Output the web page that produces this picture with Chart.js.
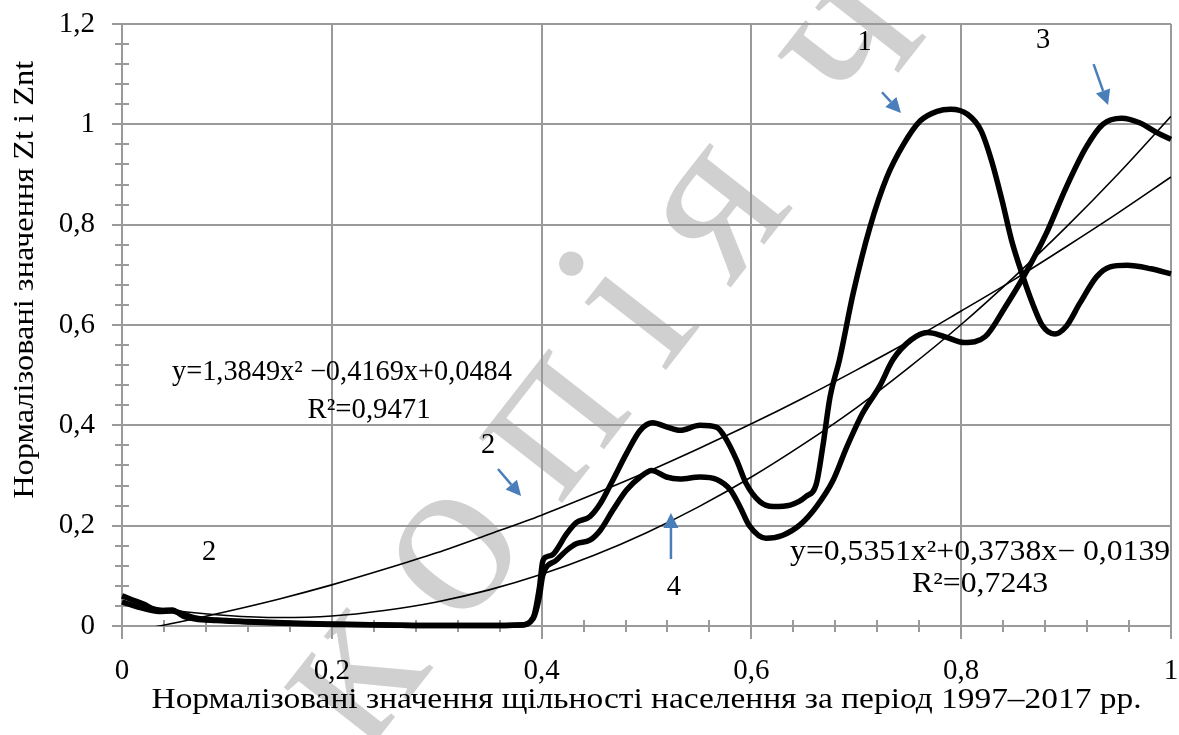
<!DOCTYPE html>
<html><head><meta charset="utf-8">
<script src="https://cdn.jsdelivr.net/npm/chart.js@4.4.0/dist/chart.umd.min.js"></script>
<style>html,body{margin:0;padding:0;background:#fff}#wrap{width:1179px;height:735px}</style>
</head><body><div id="wrap"><canvas id="c" width="1179" height="735"></canvas></div>
<script>
// ---- data ----
const curve1X = [0,0.02,0.035,0.048,0.058,0.07,0.09,0.12,0.16,0.2,0.25,0.3,0.35,0.38,0.392,0.398,0.401,0.405,0.411,0.424,0.433,0.446,0.456,0.468,0.481,0.494,0.506,0.519,0.532,0.551,0.567,0.576,0.586,0.595,0.608,0.621,0.637,0.652,0.662,0.668,0.675,0.684,0.697,0.713,0.729,0.745,0.761,0.777,0.790,0.806,0.819,0.829,0.839,0.848,0.858,0.868,0.877,0.889,0.900,0.913,0.929,0.942,0.958,0.981,1.0];
const curve1Y = [0.060,0.044,0.031,0.032,0.020,0.014,0.011,0.008,0.005,0.003,0.002,0.001,0.001,0.002,0.017,0.078,0.128,0.138,0.143,0.184,0.206,0.218,0.244,0.291,0.344,0.390,0.405,0.397,0.390,0.400,0.396,0.372,0.330,0.284,0.248,0.238,0.241,0.258,0.284,0.357,0.457,0.531,0.663,0.795,0.894,0.960,1.007,1.026,1.030,1.020,0.987,0.927,0.848,0.769,0.702,0.643,0.600,0.582,0.597,0.643,0.696,0.716,0.719,0.712,0.702];
const curve3X = [0,0.02,0.035,0.048,0.058,0.07,0.09,0.12,0.16,0.2,0.25,0.3,0.35,0.38,0.392,0.398,0.401,0.414,0.424,0.433,0.446,0.456,0.468,0.481,0.494,0.505,0.519,0.532,0.551,0.567,0.580,0.589,0.598,0.614,0.630,0.646,0.662,0.678,0.691,0.706,0.722,0.735,0.752,0.768,0.784,0.803,0.823,0.842,0.861,0.881,0.900,0.919,0.935,0.953,0.970,0.987,1.0];
const curve3Y = [0.048,0.035,0.029,0.030,0.024,0.016,0.012,0.009,0.006,0.004,0.002,0.001,0.001,0.002,0.015,0.060,0.100,0.131,0.151,0.164,0.171,0.191,0.231,0.271,0.297,0.310,0.297,0.293,0.297,0.292,0.271,0.238,0.200,0.175,0.181,0.201,0.238,0.291,0.357,0.424,0.477,0.531,0.570,0.585,0.577,0.565,0.577,0.636,0.702,0.782,0.874,0.954,1.000,1.012,1.003,0.983,0.970];
const trendX  = [0,0.05,0.1,0.15,0.2,0.25,0.3,0.35,0.4,0.45,0.5,0.55,0.6,0.65,0.7,0.75,0.8,0.85,0.9,0.95,1.0];
const trendAY = [0.048,0.031,0.021,0.017,0.020,0.031,0.048,0.072,0.103,0.141,0.186,0.238,0.297,0.363,0.435,0.515,0.601,0.695,0.795,0.902,1.016];
const trendBY = [-0.014,0.006,0.029,0.054,0.082,0.113,0.146,0.183,0.221,0.263,0.307,0.354,0.403,0.455,0.510,0.567,0.628,0.690,0.756,0.824,0.895];
const xTickLabels = ['0','0,2','0,4','0,6','0,8','1'];
const yTickLabels = ['0','0,2','0,4','0,6','0,8','1','1,2'];
const xTitle = 'Нормалізовані значення щільності населення за період 1997–2017 рр.';
const yTitle = 'Нормалізовані значення Zt і Znt';
const eqLines = ['y=1,3849x² −0,4169x+0,0484', 'R²=0,9471', 'y=0,5351x²+0,3738x− 0,0139', 'R²=0,7243'];
const eqPos = [[0.2097,0.5043],[0.2355,0.4305],[0.818,0.1455],[0.818,0.0817]];
const eqWidth = [340, 123, 380, 136];
const labelText = ['1','3','2','2','4'];
const labelPos  = [[0.708,1.164],[0.878,1.168],[0.349,0.359],[0.083,0.146],[0.526,0.076]];
const arrows = [[[0.7245,1.064],[0.7426,1.0225]],[[0.9262,1.120],[0.940,1.0385]],[[0.3584,0.313],[0.3804,0.2591]],[[0.5233,0.1335],[0.5233,0.2252]]];
const watermark = 'копія ч';

const pts = (xs, ys) => xs.map((x, i) => ({x, y: ys[i]}));
const isMajor = v => Math.abs(Math.round(v * 100) % 20) === 0;
const FONT = 'Liberation Serif';
const GRID = '#9a9a9a';

const bgPlugin = {
  id: 'bg',
  beforeDraw(chart) {
    const ctx = chart.ctx;
    ctx.save();
    ctx.fillStyle = '#fff';
    ctx.fillRect(0, 0, chart.width, chart.height);
    const xs = chart.scales.x, ys = chart.scales.y;
    const cx = xs.getPixelForValue(0.319), cy = ys.getPixelForValue(0.14);
    ctx.translate(cx, cy);
    ctx.rotate(-52 * Math.PI / 180);
    const fs = 230;
    ctx.font = fs + 'px "' + FONT + '"';
    ctx.fillStyle = 'rgba(170,170,170,0.55)';
    const gap = 45;
    const chars = Array.from(watermark);
    const wk = ctx.measureText(chars[0]).width, wo = ctx.measureText(chars[1]).width;
    let x = -(wk + gap + wo / 2);
    for (const ch of chars) {
      ctx.fillText(ch, x, fs * 0.22);
      x += ctx.measureText(ch).width + (ch === ' ' ? 0 : gap);
    }
    ctx.restore();
  }
};

const ticksPlugin = {
  id: 'minorTicks',
  beforeDatasetsDraw(chart) {
    const ctx = chart.ctx, xs = chart.scales.x, ys = chart.scales.y, a = chart.chartArea;
    ctx.save();
    ctx.strokeStyle = GRID; ctx.lineWidth = 2;
    ctx.beginPath();
    for (let i = 0; i <= 25; i++) {
      const v = i * 0.04;
      const px = Math.round(xs.getPixelForValue(v));
      if (isMajor(v)) { ctx.moveTo(px, a.bottom); ctx.lineTo(px, a.bottom + 13); }
      else { ctx.moveTo(px, a.bottom - 6); ctx.lineTo(px, a.bottom + 6); }
    }
    for (let i = 0; i <= 30; i++) {
      const v = i * 0.04;
      const py = Math.round(ys.getPixelForValue(v));
      if (isMajor(v)) { ctx.moveTo(a.left - 10, py); ctx.lineTo(a.left, py); }
      else { ctx.moveTo(a.left - 7, py); ctx.lineTo(a.left + 7, py); }
    }
    ctx.stroke();
    ctx.restore();
  }
};

function stretchedText(ctx, text, x, y, targetLen, rot) {
  ctx.save();
  ctx.translate(x, y);
  if (rot) ctx.rotate(rot);
  const w = ctx.measureText(text).width;
  ctx.scale(targetLen / w, 1);
  ctx.fillText(text, 0, 0);
  ctx.restore();
}

const annotPlugin = {
  id: 'annot',
  afterDatasetsDraw(chart) {
    const ctx = chart.ctx, xs = chart.scales.x, ys = chart.scales.y, a = chart.chartArea;
    const P = p => [xs.getPixelForValue(p[0]), ys.getPixelForValue(p[1])];
    ctx.save();
    ctx.fillStyle = '#000';
    ctx.textAlign = 'center'; ctx.textBaseline = 'middle';
    ctx.font = '28.5px "' + FONT + '"';
    labelText.forEach((t, i) => { const [x, y] = P(labelPos[i]); ctx.fillText(t, x, y); });
    eqLines.forEach((t, i) => { const [x, y] = P(eqPos[i]); stretchedText(ctx, t, x, y, eqWidth[i], 0); });
    // axis titles
    ctx.font = '30px "' + FONT + '"';
    ctx.textBaseline = 'alphabetic';
    stretchedText(ctx, xTitle, (a.left + a.right) / 2, 708, 990, 0);
    stretchedText(ctx, yTitle, 33, ys.getPixelForValue(0.69), 438, -Math.PI / 2);
    // arrows
    ctx.strokeStyle = '#4a7ebb'; ctx.fillStyle = '#4a7ebb'; ctx.lineWidth = 2.5;
    arrows.forEach(ar => {
      const [x0, y0] = P(ar[0]), [x1, y1] = P(ar[1]);
      const ang = Math.atan2(y1 - y0, x1 - x0);
      const hl = 15, hw = 7.5;
      const bx = x1 - hl * Math.cos(ang), by = y1 - hl * Math.sin(ang);
      ctx.beginPath(); ctx.moveTo(x0, y0); ctx.lineTo(bx, by); ctx.stroke();
      ctx.beginPath();
      ctx.moveTo(x1, y1);
      ctx.lineTo(bx + hw * Math.sin(ang), by - hw * Math.cos(ang));
      ctx.lineTo(bx - hw * Math.sin(ang), by + hw * Math.cos(ang));
      ctx.closePath(); ctx.fill();
    });
    ctx.restore();
  }
};

Chart.defaults.font.family = FONT;
Chart.defaults.color = '#000';

const chart = new Chart(document.getElementById('c'), {
  type: 'scatter',
  data: {
    datasets: [
      {label: 'Крива 1', data: pts(curve1X, curve1Y), showLine: true, borderColor: '#000', borderWidth: 5.5, pointRadius: 0, cubicInterpolationMode: 'monotone', clip: 3},
      {label: 'Крива 3', data: pts(curve3X, curve3Y), showLine: true, borderColor: '#000', borderWidth: 5.5, pointRadius: 0, cubicInterpolationMode: 'monotone', clip: 3},
      {label: 'Тренд 2', data: pts(trendX, trendAY), showLine: true, borderColor: '#000', borderWidth: 1.6, pointRadius: 0, cubicInterpolationMode: 'monotone'},
      {label: 'Тренд 4', data: pts(trendX, trendBY), showLine: true, borderColor: '#000', borderWidth: 1.6, pointRadius: 0, cubicInterpolationMode: 'monotone'}
    ]
  },
  options: {
    responsive: false, animation: false, devicePixelRatio: 1,
    layout: {padding: {top: 24, right: 8, left: 0, bottom: 0}},
    plugins: {legend: {display: false}, tooltip: {enabled: false}},
    scales: {
      x: {
        type: 'linear', min: 0, max: 1,
        afterFit: s => { s.height = 109; s.paddingLeft = 0; s.paddingRight = 0; },
        border: {display: true, color: GRID, width: 2},
        grid: {drawTicks: false, lineWidth: 2, color: c => isMajor(c.tick.value) ? GRID : 'rgba(0,0,0,0)'},
        ticks: {stepSize: 0.04, autoSkip: false, maxRotation: 0, padding: 28, font: {size: 29},
          callback: v => isMajor(v) ? xTickLabels[Math.round(v * 5)] : ''},
        title: {display: false, text: xTitle}
      },
      y: {
        type: 'linear', min: 0, max: 1.2,
        afterFit: s => { s.width = 122; s.paddingTop = 0; s.paddingBottom = 0; },
        border: {display: true, color: GRID, width: 2},
        grid: {drawTicks: false, lineWidth: 2, color: c => isMajor(c.tick.value) ? GRID : 'rgba(0,0,0,0)'},
        ticks: {stepSize: 0.04, autoSkip: false, padding: 27, font: {size: 29},
          callback: v => isMajor(v) ? yTickLabels[Math.round(v * 5)] : ''},
        title: {display: false, text: yTitle}
      }
    }
  },
  plugins: [bgPlugin, ticksPlugin, annotPlugin]
});
</script>
</body></html>
